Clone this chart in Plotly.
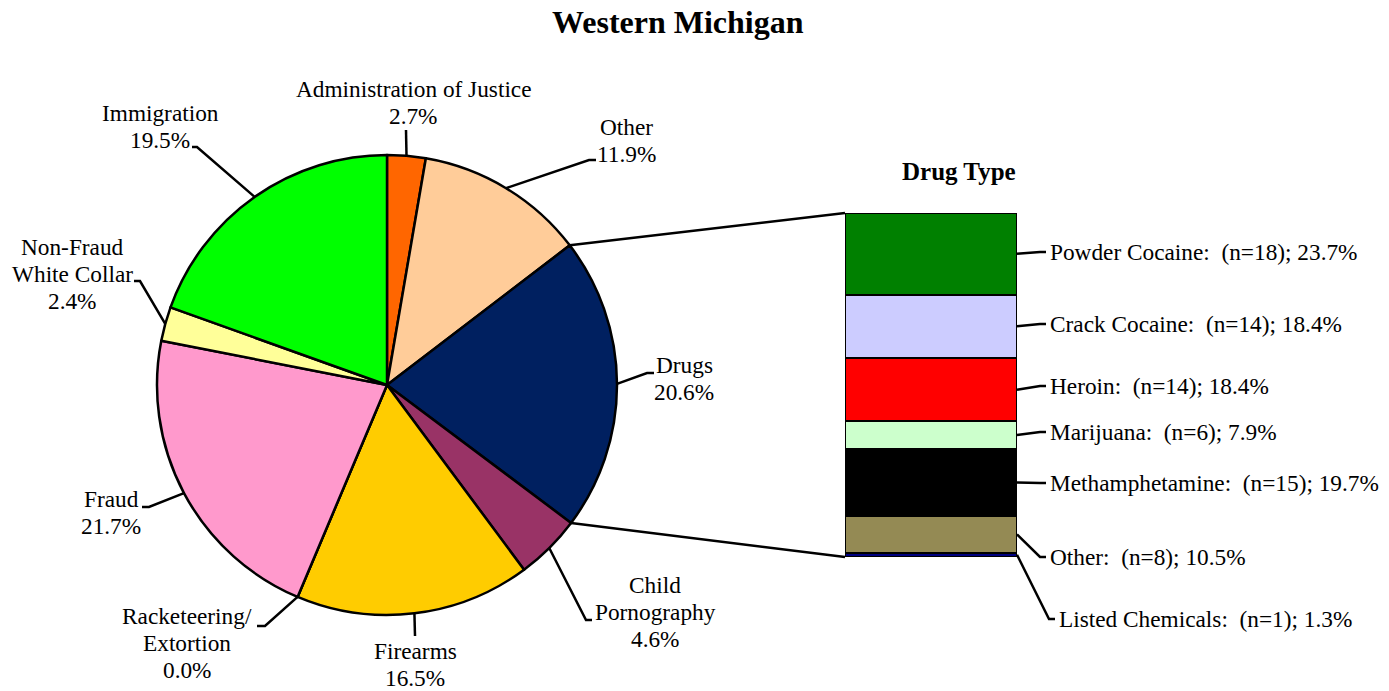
import math
import plotly.graph_objects as go

W, H = 1389, 691

# ---------------- data ----------------
pie_labels = ["Administration of Justice", "Other", "Drugs", "Child Pornography", "Firearms",
              "Racketeering/Extortion", "Fraud", "Non-Fraud White Collar", "Immigration"]
pie_values = [2.7, 11.9, 20.6, 4.6, 16.5, 0.0, 21.7, 2.4, 19.5]
pie_colors = ["#FF6600", "#FFCC99", "#002060", "#993366", "#FFCC00",
              "#3366FF", "#FF99CC", "#FFFF99", "#00FF00"]
pie_text_lines = [["Administration of Justice", "2.7%"], ["Other", "11.9%"], ["Drugs", "20.6%"],
                  ["Child", "Pornography", "4.6%"], ["Firearms", "16.5%"],
                  ["Racketeering/", "Extortion", "0.0%"], ["Fraud", "21.7%"],
                  ["Non-Fraud", "White Collar", "2.4%"], ["Immigration", "19.5%"]]

drug_labels = ["Powder Cocaine", "Crack Cocaine", "Heroin", "Marijuana",
               "Methamphetamine", "Other", "Listed Chemicals"]
drug_n = [18, 14, 14, 6, 15, 8, 1]
drug_pct = [23.7, 18.4, 18.4, 7.9, 19.7, 10.5, 1.3]
drug_colors = ["#008000", "#CCCCFF", "#FF0000", "#CCFFCC", "#000000", "#948A54", "#000080"]

# ---------------- layout geometry (pixels) ----------------
cx, cy, R = 387, 385, 230
bx0, bx1, by0, by1 = 845, 1017, 213, 557
FONT = "Liberation Serif, Times New Roman, serif"
FS = 23.3
LH = 27

def px(x):
    return x / W

def py(y):
    return 1 - y / H

# label block: (center x, first line y, elbow x, elbow y, tick end x)
pie_label_pos = [
    (414, 89, 406, 130, 406),
    (626, 127, 589, 160, 596),
    (684, 365, 647, 373, 654),
    (655, 585, 586, 620, 592),
    (415, 651, 415, 636, 415),
    (187, 616, 265, 626, 257),
    (111, 499, 149, 507, 142),
    (72, 247, 140, 281, 134),
    (160, 113, 197, 147, 192),
]
drug_label_y = [252, 324, 386, 432, 483, 557, 619]
drug_label_x = [1048, 1048, 1048, 1048, 1048, 1048, 1057]

fig = go.Figure()

fig.add_trace(go.Pie(
    labels=pie_labels, values=pie_values, sort=False, direction="clockwise", rotation=0,
    marker=dict(colors=pie_colors, line=dict(color="black", width=2.5)),
    textinfo="none", hoverinfo="label+percent", showlegend=False,
    domain=dict(x=[px(cx - R), px(cx + R)], y=[py(cy + R), py(cy - R)]),
))

total = sum(drug_pct)
for lab, n, p, c in zip(drug_labels, drug_n, drug_pct, drug_colors):
    fig.add_trace(go.Bar(
        x=[0], y=[p], width=[1], name=lab, marker=dict(color=c, line=dict(color="black", width=2.5)),
        xaxis="x", yaxis="y", showlegend=False,
    ))

annotations = []
shapes = []

annotations.append(dict(text="<b>Western Michigan</b>", x=px(678), y=py(22), xref="paper", yref="paper",
                        showarrow=False, font=dict(family=FONT, size=32, color="black"),
                        xanchor="center", yanchor="middle"))
annotations.append(dict(text="<b>Drug Type</b>", x=px(959), y=py(172), xref="paper", yref="paper",
                        showarrow=False, font=dict(family=FONT, size=25, color="black"),
                        xanchor="center", yanchor="middle"))

# pie labels and leader lines
tot = sum(pie_values)
cum = 0.0
starts = []
for i, v in enumerate(pie_values):
    starts.append(cum)
    mid = (cum + v / 2) / tot * 2 * math.pi
    cum += v
    ex = cx + R * math.sin(mid)
    ey = cy - R * math.cos(mid)
    lx, ly0, elx, ely, tx = pie_label_pos[i]
    for k, line in enumerate(pie_text_lines[i]):
        annotations.append(dict(text=line, x=px(lx), y=py(ly0 + k * LH), xref="paper", yref="paper",
                                showarrow=False, font=dict(family=FONT, size=FS, color="black"),
                                xanchor="center", yanchor="middle"))
    path = f"M {px(ex)},{py(ey)} L {px(elx)},{py(ely)} L {px(tx)},{py(ely)}"
    shapes.append(dict(type="path", path=path, xref="paper", yref="paper",
                       line=dict(color="black", width=2.5)))

# connector lines from Drugs slice to bar
di = pie_labels.index("Drugs")
a0 = starts[di] / tot * 2 * math.pi
a1 = (starts[di] + pie_values[di]) / tot * 2 * math.pi
for a, by in ((a0, by0), (a1, by1)):
    sx = cx + R * math.sin(a)
    sy = cy - R * math.cos(a)
    shapes.append(dict(type="line", x0=px(sx), y0=py(sy), x1=px(bx0), y1=py(by),
                       xref="paper", yref="paper", line=dict(color="black", width=2.5)))

# bar labels
c2 = 0.0
for lab, n, p, ly, lx in zip(drug_labels, drug_n, drug_pct, drug_label_y, drug_label_x):
    midv = c2 + p / 2
    c2 += p
    sy = by0 + midv / total * (by1 - by0)
    path = f"M {px(bx1)},{py(sy)} L {px(lx - 8)},{py(ly)} L {px(lx - 2)},{py(ly)}"
    shapes.append(dict(type="path", path=path, xref="paper", yref="paper",
                       line=dict(color="black", width=2.5)))
    annotations.append(dict(text=f"{lab}:\u00a0 (n={n}); {p}%", x=px(lx), y=py(ly),
                            xref="paper", yref="paper", showarrow=False,
                            font=dict(family=FONT, size=FS, color="black"),
                            xanchor="left", yanchor="middle"))

fig.update_layout(
    width=W, height=H, margin=dict(l=0, r=0, t=0, b=0),
    paper_bgcolor="white", plot_bgcolor="white",
    barmode="stack", bargap=0,
    xaxis=dict(domain=[px(bx0), px(bx1)], range=[-0.5, 0.5], visible=False, fixedrange=True),
    yaxis=dict(domain=[py(by1), py(by0)], range=[total, 0], visible=False, fixedrange=True),
    annotations=annotations, shapes=shapes,
)

fig.write_html("out.html", config={"displayModeBar": False},
               post_script="document.body.style.margin='0';document.body.style.overflow='hidden';")
